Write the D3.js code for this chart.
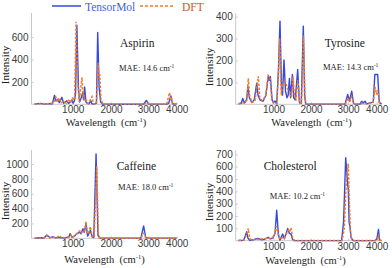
<!DOCTYPE html>
<html>
<head>
<meta charset="utf-8">
<script src="https://cdn.jsdelivr.net/npm/d3@7"></script>
<style>
  html, body { margin: 0; padding: 0; background: #fff; }
  svg { display: block; }
</style>
</head>
<body>
<svg id="chart" width="392" height="268"></svg>
<script>
// ---------------- DATA ----------------
const molecules = ["Aspirin", "Tyrosine", "Caffeine", "Cholesterol"];
const maeValues = ["14.6", "14.3", "18.0", "10.2"];
const seriesNames = ["TensorMol", "DFT"];
const xTickValues = [1000, 2000, 3000, 4000];
const aspirinYTicks = [200, 400, 600];
const tyrosineYTicks = [100, 200, 300, 400];
const caffeineYTicks = [200, 400, 600, 800, 1000];
const cholesterolYTicks = [100, 200, 300, 400, 500, 600, 700];

// [wavenumber, intensity]
const aspirinTensorMol = [[0,3],[150,8],[250,2],[400,6],[470,5],[521,80],[560,30],[610,45],[650,15],[716,62],[760,10],[847,30],[890,8],[950,25],[979,40],[1010,10],[1045,30],[1075,100],[1108,705],[1150,150],[1180,20],[1224,60],[1258,100],[1285,40],[1311,155],[1345,20],[1380,10],[1420,5],[1479,30],[1500,5],[1560,3],[1620,10],[1653,640],[1690,150],[1730,20],[1780,2],[2500,1],[2880,3],[2947,35],[3010,2],[3650,2],[3720,10],[3796,75],[3850,5],[4000,2]];
const aspirinDFT = [[0,5],[100,2],[200,8],[300,3],[450,10],[510,20],[558,65],[600,20],[645,58],[700,15],[760,25],[830,10],[908,45],[950,10],[1000,55],[1050,40],[1088,735],[1130,200],[1170,20],[1242,240],[1270,60],[1284,100],[1310,30],[1350,40],[1400,5],[1505,68],[1540,5],[1620,5],[1662,370],[1685,250],[1705,270],[1740,40],[1790,3],[2900,2],[2960,18],[3010,2],[3650,2],[3747,104],[3790,35],[3820,50],[3860,5],[4000,3]];

const tyrosineTensorMol = [[0,2],[80,5],[120,27],[170,5],[230,20],[270,80],[310,30],[380,8],[450,20],[520,96],[560,40],[620,19],[700,14],[780,40],[850,127],[880,110],[910,127],[960,20],[1000,8],[1040,15],[1085,2],[1130,150],[1173,380],[1215,60],[1240,42],[1280,203],[1320,60],[1360,30],[1390,40],[1424,118],[1455,30],[1504,136],[1540,30],[1580,20],[1645,159],[1690,10],[1740,5],[1795,357],[1830,40],[1860,1],[2920,1],[2992,45],[3050,14],[3129,60],[3190,5],[3244,1],[3420,1],[3477,14],[3530,6],[3592,14],[3650,2],[3880,10],[3935,136],[4030,136],[4080,10],[4150,1]];
const tyrosineDFT = [[0,3],[100,8],[180,5],[240,20],[280,119],[320,40],[380,10],[470,15],[566,128],[610,30],[680,15],[780,40],[845,132],[900,120],[950,20],[1000,5],[1085,3],[1130,120],[1165,301],[1210,40],[1240,95],[1280,90],[1320,105],[1360,80],[1400,60],[1440,55],[1480,30],[1520,125],[1560,40],[1600,25],[1650,110],[1700,5],[1750,10],[1800,313],[1840,30],[1870,1],[2930,1],[3000,30],[3060,10],[3129,35],[3200,3],[3250,1],[3450,3],[3550,5],[3650,2],[3880,10],[3941,80],[3990,45],[4030,65],[4080,8],[4150,1]];

const caffeineTensorMol = [[0,3],[150,8],[250,5],[320,45],[400,10],[480,20],[560,5],[620,12],[700,8],[800,5],[900,20],[934,63],[980,15],[1050,30],[1100,60],[1179,81],[1220,60],[1268,130],[1300,80],[1347,189],[1390,30],[1420,60],[1460,108],[1510,20],[1550,10],[1610,1135],[1660,40],[1705,2],[2800,2],[2875,167],[2930,10],[3000,2],[4000,2]];
const caffeineDFT = [[0,5],[120,2],[250,8],[320,35],[400,5],[500,15],[560,3],[653,36],[700,10],[800,8],[900,15],[945,45],[990,10],[1060,40],[1120,70],[1185,99],[1230,70],[1275,110],[1310,100],[1347,225],[1385,60],[1420,80],[1460,158],[1510,20],[1560,15],[1629,969],[1670,60],[1710,2],[2800,2],[2880,68],[2940,5],[3000,2],[4000,2]];

const cholesterolTensorMol = [[0,2],[150,3],[234,73],[270,20],[320,3],[450,10],[550,19],[650,8],[750,12],[850,27],[900,15],[980,20],[1040,60],[1085,247],[1130,50],[1170,5],[1245,54],[1290,15],[1340,60],[1379,100],[1420,60],[1467,54],[1510,10],[1555,1],[2827,1],[2880,150],[2938,672],[2980,500],[3011,410],[3040,150],[3070,108],[3110,20],[3185,1],[3950,1],[4010,20],[4056,92],[4090,5],[4150,1]];
const cholesterolDFT = [[0,3],[150,5],[240,50],[280,100],[320,20],[380,3],[500,15],[600,10],[700,15],[850,20],[950,15],[1030,50],[1075,118],[1120,60],[1170,10],[1240,25],[1290,20],[1340,50],[1395,86],[1430,70],[1467,105],[1510,20],[1560,1],[2840,1],[2900,100],[2938,381],[2975,560],[3011,624],[3050,300],[3090,60],[3140,10],[3200,1],[3950,1],[4020,10],[4056,38],[4090,3],[4150,1]];

// ---------------- LAYOUT ----------------
const blue = "#3448e6", orange = "#f07c28";
const serif = "'Liberation Serif', 'Times New Roman', serif";
const sans = "'Liberation Sans', Arial, sans-serif";

const panels = [
  { name: molecules[0], mae: maeValues[0], tm: aspirinTensorMol, dft: aspirinDFT, yTicks: aspirinYTicks,
    xDom: [-80, 1000, 2000, 3000, 4000], xRng: [31.5, 72.7, 111, 148.3, 176.7],
    yDom: [0, 600], yRng: [104.3, 37], yTop: 13,
    title: [120, 47], maeAt: [119, 71], ylab: [9, 65], xlab: [106, 126] },
  { name: molecules[1], mae: maeValues[1], tm: tyrosineTensorMol, dft: tyrosineDFT, yTicks: tyrosineYTicks,
    xDom: [-80, 1000, 2000, 3000, 4000, 4150], xRng: [235.7, 273.5, 311, 348, 376.7, 381.5],
    yDom: [0, 400], yRng: [104.3, 16.7], yTop: 13,
    title: [324.7, 47], maeAt: [323, 70], ylab: [213, 67], xlab: [311.5, 126] },
  { name: molecules[2], mae: maeValues[2], tm: caffeineTensorMol, dft: caffeineDFT, yTicks: caffeineYTicks,
    xDom: [-80, 1000, 2000, 3000, 4000], xRng: [31.5, 72.7, 111, 148.3, 176.7],
    yDom: [0, 1000], yRng: [238.3, 164], yTop: 150,
    title: [116.7, 170], maeAt: [118, 190], ylab: [9, 201], xlab: [104.5, 263] },
  { name: molecules[3], mae: maeValues[3], tm: cholesterolTensorMol, dft: cholesterolDFT, yTicks: cholesterolYTicks,
    xDom: [-80, 1000, 2000, 3000, 4000, 4150], xRng: [235.7, 273.5, 311, 348, 376.7, 381.5],
    yDom: [0, 700], yRng: [240.7, 154.3], yTop: 150,
    title: [263.7, 170], maeAt: [269.7, 199], ylab: [213, 202], xlab: [305.5, 264] }
];

const svg = d3.select("#chart");

panels.forEach(p => {
  const x = d3.scaleLinear().domain(p.xDom).range(p.xRng);
  const y = d3.scaleLinear().domain(p.yDom).range(p.yRng);
  const g = svg.append("g");

  // x axis (ticks point inward, Mathematica style)
  const xAxis = d3.axisBottom(x).tickValues(xTickValues).tickSize(-2).tickPadding(2)
    .tickFormat(d3.format("d"));
  const xa = g.append("g").attr("transform", `translate(0,${p.yRng[0]})`).call(xAxis);
  xa.select(".domain").attr("stroke", "#c8c8c8").attr("d", `M${p.xRng[0]},0H${p.xRng[p.xRng.length-1]}`);
  xa.selectAll(".tick line").attr("stroke", "#c8c8c8");
  xa.selectAll(".tick text").attr("fill", "#3a3a3a").style("font-family", sans).style("font-size", "10px");

  // y axis
  const yAxis = d3.axisLeft(y).tickValues(p.yTicks).tickSize(-2).tickPadding(3)
    .tickFormat(d3.format("d"));
  const ya = g.append("g").attr("transform", `translate(${p.xRng[0]},0)`).call(yAxis);
  ya.select(".domain").attr("stroke", "#c8c8c8").attr("d", `M0,${p.yTop}V${p.yRng[0]}`);
  ya.selectAll(".tick line").attr("stroke", "#c8c8c8");
  ya.selectAll(".tick text").attr("fill", "#3a3a3a").style("font-family", sans).style("font-size", "10px");

  const line = d3.line().x(d => x(d[0])).y(d => y(d[1]));
  g.append("path").datum(p.tm).attr("d", line).attr("fill", "none")
    .attr("stroke", blue).attr("stroke-width", 1.4).attr("stroke-linejoin", "round");
  g.append("path").datum(p.dft).attr("d", line).attr("fill", "none")
    .attr("stroke", orange).attr("stroke-width", 1.5).attr("stroke-dasharray", "2.5,1.5");

  // titles
  g.append("text").attr("x", p.title[0]).attr("y", p.title[1]).text(p.name)
    .style("font-family", serif).style("font-size", "11.5px").attr("fill", "#222");
  const mt = g.append("text").attr("x", p.maeAt[0]).attr("y", p.maeAt[1])
    .style("font-family", serif).style("font-size", "8.5px").attr("fill", "#222");
  mt.append("tspan").text(`MAE: ${p.mae} cm`);
  mt.append("tspan").text("-1").attr("dy", -3).style("font-size", "5.5px");

  // axis labels
  g.append("text").attr("transform", `translate(${p.ylab[0]},${p.ylab[1]}) rotate(-90)`)
    .attr("text-anchor", "middle").text("Intensity")
    .style("font-family", serif).style("font-size", "11px").attr("fill", "#222");
  const xl = g.append("text").attr("x", p.xlab[0]).attr("y", p.xlab[1]).attr("text-anchor", "middle")
    .style("font-family", serif).style("font-size", "10.5px").attr("fill", "#222");
  xl.append("tspan").text("Wavelength\u00a0\u00a0(cm");
  xl.append("tspan").text("-1").attr("dy", -4).style("font-size", "6.5px");
  xl.append("tspan").text(")").attr("dy", 4);
});

// legend
const lg = svg.append("g");
lg.append("line").attr("x1", 52).attr("x2", 81).attr("y1", 6).attr("y2", 6)
  .attr("stroke", blue).attr("stroke-width", 1.5);
lg.append("text").attr("x", 85).attr("y", 10.5).text(seriesNames[0])
  .style("font-family", serif).style("font-size", "11.5px").attr("fill", "#4a5ee0");
lg.append("line").attr("x1", 140).attr("x2", 174).attr("y1", 6).attr("y2", 6)
  .attr("stroke", orange).attr("stroke-width", 1.6).attr("stroke-dasharray", "3,2");
lg.append("text").attr("x", 182).attr("y", 10.5).text(seriesNames[1])
  .style("font-family", serif).style("font-size", "11.5px").attr("fill", "#d0502c");
</script>
</body>
</html>
